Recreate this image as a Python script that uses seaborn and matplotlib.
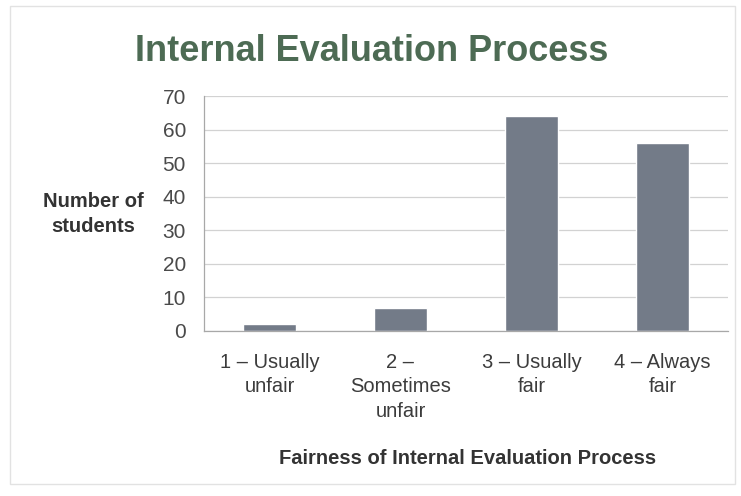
import matplotlib
matplotlib.use('Agg')
import matplotlib.pyplot as plt
import matplotlib.patches as mpatches
import seaborn as sns
import pandas as pd

# 数据
categories = ['1 – Usually\nunfair', '2 –\nSometimes\nunfair', '3 – Usually\nfair', '4 – Always\nfair']
students = [2, 7, 64, 56]
y_ticks = [0, 10, 20, 30, 40, 50, 60, 70]

df = pd.DataFrame({'fairness': categories, 'count': students})

sns.set_theme(style='white')
plt.rcParams['font.family'] = ['Liberation Sans', 'DejaVu Sans']

fig = plt.figure(figsize=(7.41, 4.96), dpi=100)
ax = fig.add_axes([204 / 741, 1 - 331 / 496, (728 - 204) / 741, (331 - 96) / 496])

sns.barplot(data=df, x='fairness', y='count', color='#737b88', width=0.4,
            saturation=1, ax=ax)

ax.set_ylim(0, 70)
ax.set_xlim(-0.5, 3.5)
ax.set_yticks(y_ticks)
ax.yaxis.grid(True, color='#d2d2d2', linewidth=0.9)
ax.set_axisbelow(True)

for s in ['top', 'right']:
    ax.spines[s].set_visible(False)
for s in ['left', 'bottom']:
    ax.spines[s].set_color('#a8a8a8')
    ax.spines[s].set_linewidth(0.9)

ax.tick_params(axis='y', length=5, color='#a8a8a8', labelsize=15, labelcolor='#4a4a4a', pad=8)
ax.tick_params(axis='x', which='major', length=0, labelsize=14.5, labelcolor='#3c3c3c', pad=16)
for lab in ax.get_xticklabels():
    lab.set_linespacing(1.35)
ax.set_xticks([-0.5, 0.5, 1.5, 2.5, 3.5], minor=True)
ax.tick_params(axis='x', which='minor', length=5, color='#a8a8a8')

ax.set_xlabel('')
ax.set_ylabel('')

fig.text(468 / 741, 1 - 459 / 496, 'Fairness of Internal Evaluation Process', ha='center',
         va='center', fontsize=14.5, fontweight='bold', color='#333333')

fig.text(93 / 741, 1 - 214 / 496, 'Number of\nstudents', ha='center', va='center',
         fontsize=14.5, fontweight='bold', color='#333333', linespacing=1.35)

fig.text(372 / 741, 1 - 61 / 496, 'Internal Evaluation Process', ha='center', va='baseline',
         fontsize=26, fontweight='bold', color='#4d6b54')

# 外框
fig.patches.append(mpatches.Rectangle((10 / 741, 12 / 496), 725 / 741, 478 / 496,
                                      transform=fig.transFigure, fill=False,
                                      edgecolor='#e2e2e2', linewidth=1))

plt.savefig('out.png', dpi=100)
plt.close()
